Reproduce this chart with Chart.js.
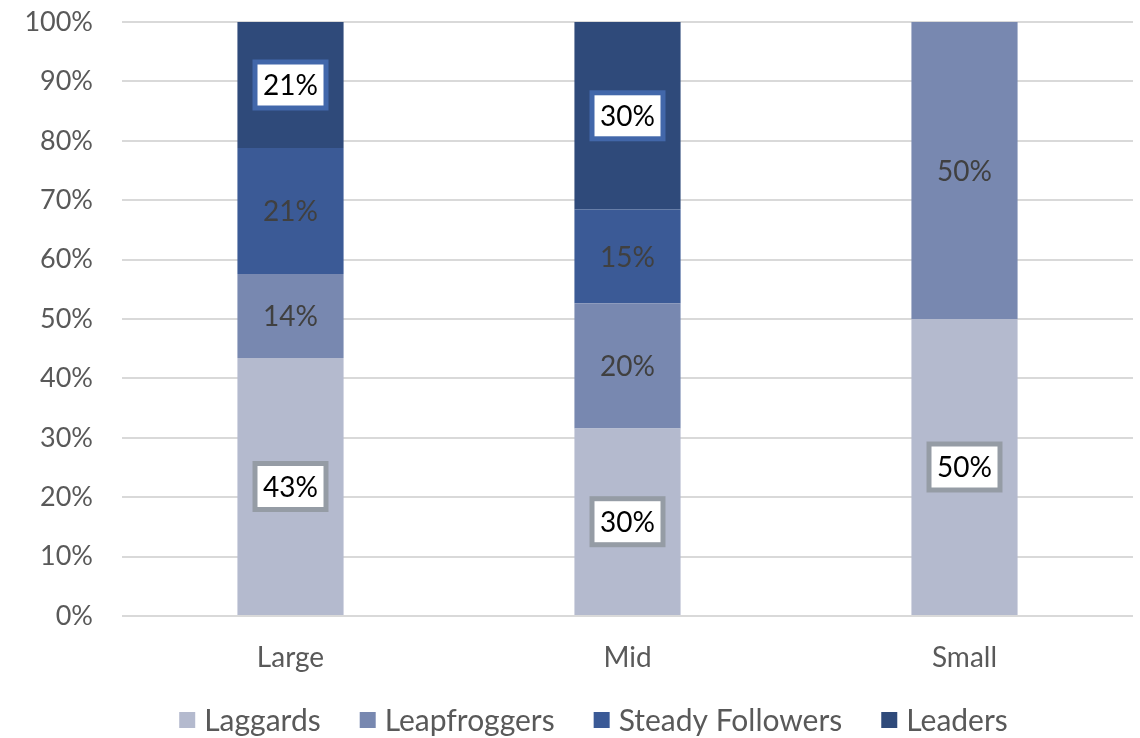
<!DOCTYPE html>
<html>
<head>
<meta charset="utf-8">
<script src="https://cdn.jsdelivr.net/npm/chart.js@4.4.1/dist/chart.umd.min.js"></script>
<style>
  html, body { margin: 0; padding: 0; background: #fff; }
  #wrap { width: 1140px; height: 738px; position: relative; }
</style>
</head>
<body>
<div id="wrap"><canvas id="chart"></canvas></div>
<script>
// segment sizes per company group (raw shares, shown as 100% stacks)
const categories   = ['Large', 'Mid', 'Small'];
const laggards     = [43, 30, 50];
const leapfroggers = [14, 20, 50];
const steady       = [21, 15, 0];
const leaders      = [21, 30, 0];
const yTicks       = [0, 10, 20, 30, 40, 50, 60, 70, 80, 90, 100];

const series = [
  { label: 'Laggards',         raw: laggards,     color: '#B4BACE', box: '#959CA5' },
  { label: 'Leapfroggers',     raw: leapfroggers, color: '#7888B0', box: null },
  { label: 'Steady Followers', raw: steady,       color: '#3B5A96', box: null },
  { label: 'Leaders',          raw: leaders,      color: '#2F4A7A', box: '#4267AA' }
];

// normalise each column to 100
const totals = categories.map((_, i) => series.reduce((s, d) => s + d.raw[i], 0));

const FONT = 'Lato, "Noto Sans", sans-serif';

// value labels centred in each segment, some in framed white boxes
const segLabels = {
  id: 'segLabels',
  afterDatasetsDraw(chart) {
    const ctx = chart.ctx;
    ctx.save();
    ctx.font = '28px ' + FONT;
    ctx.textAlign = 'center';
    ctx.textBaseline = 'middle';
    chart.data.datasets.forEach((ds, di) => {
      const meta = chart.getDatasetMeta(di);
      meta.data.forEach((el, i) => {
        const v = ds.rawValues[i];
        if (!v) return;
        const x = el.x;
        const y = (el.y + el.base) / 2;
        const txt = v + '%';
        if (ds.boxColor) {
          const w = 71, h = 46;
          ctx.fillStyle = '#fff';
          ctx.fillRect(x - w / 2, y - h / 2, w, h);
          ctx.lineWidth = 5;
          ctx.strokeStyle = ds.boxColor;
          ctx.strokeRect(x - w / 2, y - h / 2, w, h);
          ctx.fillStyle = '#000';
        } else {
          ctx.fillStyle = '#404040';
        }
        ctx.fillText(txt, x, y + 1);
      });
    });
    ctx.restore();
  }
};

// legend row under the axis
const bottomLegend = {
  id: 'bottomLegend',
  afterDraw(chart) {
    const ctx = chart.ctx;
    ctx.save();
    ctx.font = '30px ' + FONT;
    ctx.textBaseline = 'middle';
    const box = 16, gap = 9, spacing = 39;
    const widths = series.map(s => box + gap + ctx.measureText(s.label).width);
    const total = widths.reduce((a, b) => a + b, 0) + spacing * (series.length - 1);
    let x = (chart.chartArea.left + chart.chartArea.right) / 2 - total / 2 - 34;
    const y = 720;
    series.forEach((s, i) => {
      ctx.fillStyle = s.color;
      ctx.fillRect(x, y - box / 2, box, box);
      ctx.fillStyle = '#595959';
      ctx.fillText(s.label, x + box + gap, y + 1);
      x += widths[i] + spacing;
    });
    ctx.restore();
  }
};

new Chart(document.getElementById('chart'), {
  type: 'bar',
  data: {
    labels: categories,
    datasets: series.map(s => ({
      label: s.label,
      data: s.raw.map((v, i) => v / totals[i] * 100),
      rawValues: s.raw,
      boxColor: s.box,
      backgroundColor: s.color,
      borderWidth: 0,
      categoryPercentage: 1,
      barPercentage: 0.315
    }))
  },
  options: {
    responsive: true,
    maintainAspectRatio: false,
    animation: false,
    layout: { padding: { left: 0, right: 7, top: 22, bottom: 0 } },
    plugins: {
      legend: { display: false },
      tooltip: { enabled: false }
    },
    scales: {
      x: {
        stacked: true,
        grid: { display: false, drawTicks: false },
        border: { display: false },
        ticks: { color: '#595959', font: { size: 28, family: FONT }, padding: 25 },
        afterFit(scale) { scale.height = 122; }
      },
      y: {
        stacked: true,
        min: 0,
        max: 100,
        afterBuildTicks(scale) { scale.ticks = yTicks.map(v => ({ value: v })); },
        grid: { color: '#D9D9D9', lineWidth: 2, drawTicks: false },
        border: { display: false },
        ticks: {
          color: '#595959',
          font: { size: 27, family: FONT },
          padding: 29,
          callback: v => v + '%'
        },
        afterFit(scale) {
          scale.width = 122;
          scale.paddingTop = 0;
          scale.paddingBottom = 0;
        }
      }
    }
  },
  plugins: [segLabels, bottomLegend]
});
</script>
</body>
</html>
